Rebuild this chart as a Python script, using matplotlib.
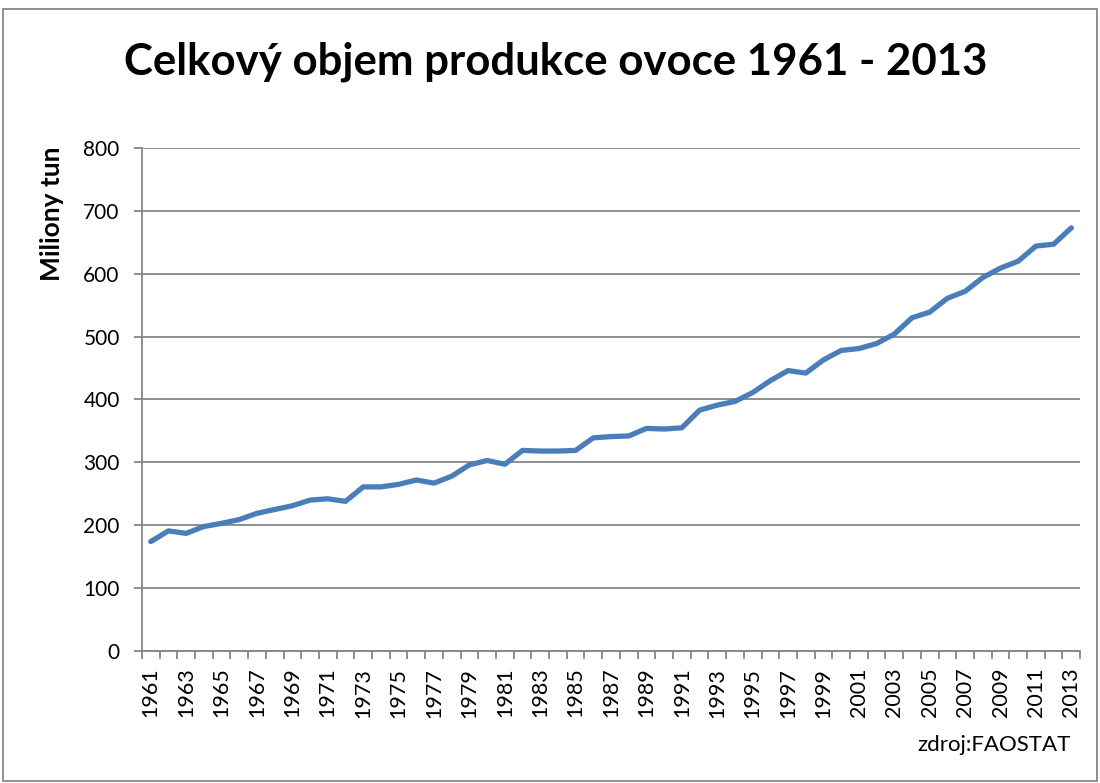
import matplotlib.pyplot as plt
import numpy as np
from matplotlib.patches import Rectangle

plt.rcParams['font.family'] = ['Lato', 'DejaVu Sans']

years = list(range(1961, 2014))
production = [174, 191, 187, 198, 203, 209, 219, 225, 231, 240,
              242, 238, 261, 261, 265, 272, 267, 278, 296, 303,
              297, 319, 318, 318, 319, 339, 341, 342, 354, 353,
              355, 383, 391, 397, 411, 430, 446, 442, 463, 478,
              481, 489, 504, 530, 539, 561, 572, 594, 609, 620,
              644, 647, 673]
yticks = [0, 100, 200, 300, 400, 500, 600, 700, 800]

grey = "#868686"

fig = plt.figure(figsize=(11, 7.83), dpi=100)
ax = fig.add_axes([0.129, 0.1686, 0.853, 0.6424])

x = np.arange(len(years))
ax.plot(x, production, color="#4a7ebb", linewidth=3.8, solid_capstyle="round",
        solid_joinstyle="round", zorder=3)

ax.set_xlim(-0.5, len(years) - 0.5)
ax.set_ylim(0, 800)
ax.set_yticks(yticks)
ax.set_yticklabels([str(v) for v in yticks], fontsize=15)
ax.grid(axis='y', color=grey, linewidth=1.3)
ax.set_axisbelow(True)

# category ticks sit between the years, labels every second year
ax.set_xticks(x[::2])
ax.set_xticklabels([str(y) for y in years[::2]], rotation=90, fontsize=15.5)
ax.set_xticks(np.arange(-0.5, len(years)), minor=True)
ax.tick_params(axis='x', which='major', length=0, pad=12)
ax.tick_params(axis='x', which='minor', length=6, color=grey, width=1.3)
ax.tick_params(axis='y', length=6, color=grey, width=1.3, pad=10)

for side in ["top", "right"]:
    ax.spines[side].set_visible(False)
for side in ["left", "bottom"]:
    ax.spines[side].set_color(grey)
    ax.spines[side].set_linewidth(1.3)

fig.text(0.505, 0.921, "Celkový objem produkce ovoce 1961 - 2013",
         ha="center", va="center", fontsize=31.5, fontweight="bold")
fig.text(0.047, 0.727, "Miliony tun", rotation=90, ha="center", va="center",
         fontsize=19, fontweight="bold")
fig.text(0.973, 0.048, "zdroj:FAOSTAT", ha="right", va="center", fontsize=16)

fig.patches.append(Rectangle((0.003, 0.002), 0.994, 0.986, transform=fig.transFigure,
                             fill=False, edgecolor=grey, linewidth=1.3))

fig.savefig("out.png", dpi=100)
